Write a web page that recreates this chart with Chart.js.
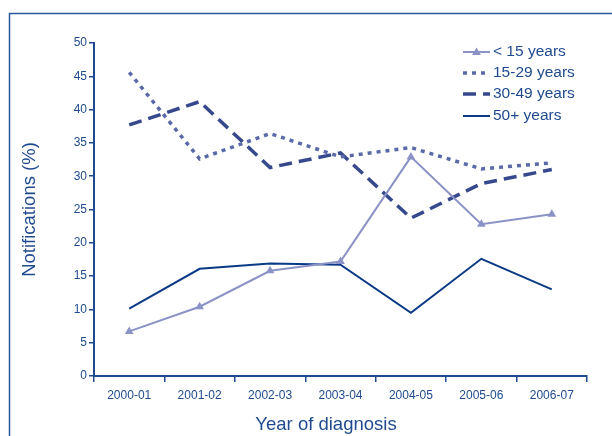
<!DOCTYPE html>
<html>
<head>
<meta charset="utf-8">
<script src="https://cdn.jsdelivr.net/npm/chart.js@4"></script>
<style>
  html, body { margin: 0; padding: 0; background: #fff; }
  #wrap { position: relative; width: 612px; height: 436px; }
</style>
</head>
<body>
<div id="wrap"><canvas id="notifChart" width="612" height="436"></canvas></div>
<script>
// Data
const years = ["2000-01", "2001-02", "2002-03", "2003-04", "2004-05", "2005-06", "2006-07"];
const under15 = [6.7, 10.4, 15.8, 17.2, 32.9, 22.8, 24.3];
const age15to29 = [45.6, 32.6, 36.4, 32.9, 34.3, 31.1, 32.0];
const age30to49 = [37.7, 41.2, 31.3, 33.5, 23.7, 28.9, 31.0];
const age50plus = [10.1, 16.1, 16.9, 16.7, 9.5, 17.6, 13.0];

const textColor = "#1f4a8f";
const axisColor = "#1f4a8f";
const fontFam = "'Liberation Sans', Arial, sans-serif";

// frame, legend and x title drawn by hand
const framePlugin = {
  id: "frame",
  beforeDraw(chart) {
    const ctx = chart.ctx;
    ctx.save();
    ctx.strokeStyle = "#2a56a0";
    ctx.lineWidth = 1.5;
    ctx.beginPath();
    ctx.moveTo(9.5, 440);
    ctx.lineTo(9.5, 13.5);
    ctx.lineTo(620, 13.5);
    ctx.stroke();
    ctx.restore();
  },
  afterDraw(chart) {
    const ctx = chart.ctx;
    ctx.save();
    ctx.font = "15.5px " + fontFam;
    ctx.textBaseline = "middle";
    const rows = [52, 73, 94, 116];
    chart.data.datasets.forEach((ds, i) => {
      const y = rows[i];
      ctx.strokeStyle = ds.borderColor;
      ctx.lineWidth = ds.borderWidth;
      ctx.setLineDash(ds.borderDash || []);
      ctx.beginPath();
      ctx.moveTo(463, y);
      ctx.lineTo(490, y);
      ctx.stroke();
      ctx.setLineDash([]);
      if (ds.pointStyle === "triangle") {
        ctx.fillStyle = ds.borderColor;
        ctx.beginPath();
        ctx.moveTo(476.5, y - 4.5);
        ctx.lineTo(481, y + 3);
        ctx.lineTo(472, y + 3);
        ctx.closePath();
        ctx.fill();
      }
      ctx.fillStyle = textColor;
      ctx.fillText(ds.label, 493, y);
    });

    ctx.font = "18.5px " + fontFam;
    ctx.textAlign = "center";
    ctx.fillText("Year of diagnosis", 326, 425);
    ctx.restore();
  }
};

const ctx = document.getElementById("notifChart").getContext("2d");
new Chart(ctx, {
  type: "line",
  data: {
    labels: years,
    datasets: [
      {
        label: "< 15 years",
        data: under15,
        borderColor: "#8a92c6",
        backgroundColor: "#8a92c6",
        borderWidth: 2,
        pointStyle: "triangle",
        pointRadius: 5,
        pointBorderWidth: 0,
        tension: 0
      },
      {
        label: "15-29 years",
        data: age15to29,
        borderColor: "#5b69a8",
        borderWidth: 3.5,
        borderDash: [4, 5],
        pointRadius: 0,
        tension: 0
      },
      {
        label: "30-49 years",
        data: age30to49,
        borderColor: "#36498c",
        borderWidth: 3.5,
        borderDash: [13, 7],
        pointRadius: 0,
        tension: 0
      },
      {
        label: "50+ years",
        data: age50plus,
        borderColor: "#0b3a85",
        borderWidth: 2,
        pointRadius: 0,
        tension: 0
      }
    ]
  },
  options: {
    responsive: false,
    animation: false,
    layout: { padding: { top: 43, right: 25, bottom: 0, left: 0 } },
    plugins: {
      legend: { display: false },
      tooltip: { enabled: false }
    },
    scales: {
      x: {
        offset: true,
        grid: {
          offset: true,
          drawOnChartArea: false,
          drawTicks: true,
          tickLength: 6,
          color: axisColor,
          lineWidth: 1.5
        },
        border: { color: axisColor, width: 2 },
        ticks: {
          color: textColor,
          font: { family: fontFam, size: 12 },
          padding: 6,
          maxRotation: 0
        },
        afterFit(scale) { scale.height = 60; }
      },
      y: {
        min: 0,
        max: 50,
        ticks: {
          stepSize: 5,
          color: textColor,
          font: { family: fontFam, size: 12 },
          padding: 2
        },
        grid: {
          drawOnChartArea: false,
          drawTicks: true,
          tickLength: 5,
          color: axisColor,
          lineWidth: 1.5
        },
        border: { color: axisColor, width: 2 },
        title: {
          display: true,
          text: "Notifications (%)",
          color: textColor,
          font: { family: fontFam, size: 18.5 },
          padding: { top: 19, bottom: 0 }
        },
        afterFit(scale) { scale.width = 94; }
      }
    }
  },
  plugins: [framePlugin]
});
</script>
</body>
</html>
